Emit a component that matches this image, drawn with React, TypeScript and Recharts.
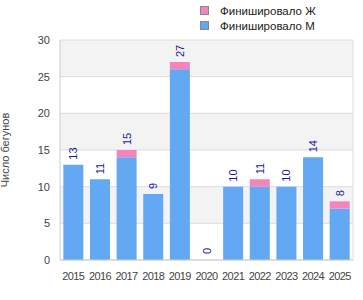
import { BarChart, Bar, XAxis, YAxis, CartesianGrid, LabelList } from 'recharts'

const years = ['2015', '2016', '2017', '2018', '2019', '2020', '2021', '2022', '2023', '2024', '2025']
const finishedM = [13, 11, 14, 9, 26, 0, 10, 10, 10, 14, 7]
const finishedF = [0, 0, 1, 0, 1, 0, 0, 1, 0, 0, 1]
const yTicks = [0, 5, 10, 15, 20, 25, 30]

const data = years.map((year, i) => ({
  year,
  m: finishedM[i],
  f: finishedF[i],
  total: finishedM[i] + finishedF[i],
}))

const font = '"Liberation Sans", Arial, sans-serif'
const blue = '#62a8f2'
const pink = '#f285bb'

const legendItems = [
  { name: 'Финишировало Ж', color: pink },
  { name: 'Финишировало М', color: blue },
]

function TotalLabel(props: any) {
  const { x, y, width, height, value } = props
  const top = height < 0 ? y + height : y
  const cx = x + width / 2
  const ty = top - 5
  return (
    <text
      x={cx}
      y={ty}
      transform={`rotate(-90 ${cx} ${ty})`}
      textAnchor="start"
      dominantBaseline="central"
      fill="#1c1c99"
      fontSize={11}
      fontFamily={font}
    >
      {value}
    </text>
  )
}

export default function App() {
  return (
    <div style={{ position: 'absolute', left: 0, top: 0, width: 363, height: 300, background: '#fff' }}>
      <div
        style={{
          position: 'absolute',
          left: 200,
          top: 3,
          fontFamily: font,
          fontSize: 11.5,
          color: '#222',
        }}
      >
        {legendItems.map((it) => (
          <div key={it.name} style={{ display: 'flex', alignItems: 'center', height: 15 }}>
            <span
              style={{
                display: 'inline-block',
                width: 7,
                height: 7,
                background: it.color,
                border: '1px solid #888',
                marginRight: 11,
              }}
            />
            {it.name}
          </div>
        ))}
      </div>
      <BarChart
        width={363}
        height={300}
        data={data}
        margin={{ top: 40, right: 10, bottom: 0, left: 0 }}
        barCategoryGap="12.5%"
      >
        <CartesianGrid
          stroke="#dddddd"
          horizontalFill={['#f3f3f3', '#ffffff']}
          fillOpacity={1}
          verticalCoordinatesGenerator={({ offset }: any) => [offset.left + offset.width]}
        />
        <XAxis
          dataKey="year"
          height={40}
          tickLine={false}
          axisLine={{ stroke: '#cccccc' }}
          tick={{ fontSize: 11, fill: '#444', fontFamily: font, letterSpacing: -0.6 }}
          tickMargin={6}
          interval={0}
        />
        <XAxis dataKey="year" xAxisId="labels" hide />
        <YAxis
          width={60}
          domain={[0, 30]}
          ticks={yTicks}
          tickLine={false}
          axisLine={{ stroke: '#cccccc' }}
          tick={{ fontSize: 11, fill: '#444', fontFamily: font }}
          tickMargin={4}
          label={{
            content: () => (
              <text
                x={9}
                y={150}
                transform="rotate(-90 9 150)"
                textAnchor="middle"
                fontSize={11}
                fill="#444"
                fontFamily={font}
              >
                Число бегунов
              </text>
            ),
          }}
        />
        <Bar dataKey="m" stackId="a" fill={blue} isAnimationActive={false} />
        <Bar dataKey="f" stackId="a" fill={pink} isAnimationActive={false} />
        <Bar
          dataKey="total"
          xAxisId="labels"
          fill="transparent"
          minPointSize={1}
          isAnimationActive={false}
        >
          <LabelList dataKey="total" content={TotalLabel} />
        </Bar>
      </BarChart>
    </div>
  )
}
